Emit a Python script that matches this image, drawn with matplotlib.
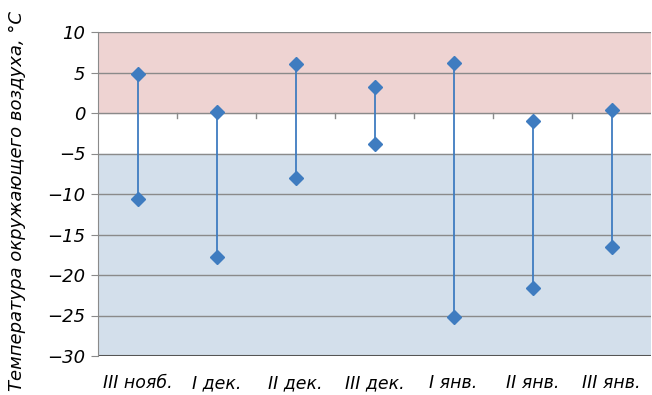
import numpy as np
import matplotlib.pyplot as plt

labels = ['III нояб.', 'I дек.', 'II дек.', 'III дек.', 'I янв.', 'II янв.', 'III янв.']
t_max = [4.8, 0.1, 6.0, 3.2, 6.2, -1.0, 0.4]
t_min = [-10.6, -17.8, -8.0, -3.8, -25.2, -21.6, -16.5]

fig = plt.figure(figsize=(6.52, 3.95), dpi=100)
ax = fig.add_axes([98/652, 39/395, 553/652, 324/395])

x = np.arange(len(labels))
ax.set_xlim(-0.5, len(labels) - 0.5)
ax.set_ylim(-30, 10)

ax.axhspan(0, 10, color='#eed3d2', zorder=0)
ax.axhspan(-30, -5, color='#d3dfeb', zorder=0)
for yv in range(-25, 11, 5):
    ax.axhline(yv, color='#8a8a8a', lw=1.0, zorder=1)
ax.axhline(-30, color='#555555', lw=1.5, zorder=1)

# tick marks between categories on the zero line
for xv in np.arange(0.5, len(labels) - 0.5, 1):
    ax.plot([xv, xv], [0, -0.6], color='#8a8a8a', lw=1.0, zorder=1)

ax.vlines(x, t_min, t_max, color='#3f7cc0', lw=1.3, zorder=2)
ax.plot(x, t_max, 'D', color='#3f7cc0', ms=7, zorder=3)
ax.plot(x, t_min, 'D', color='#3f7cc0', ms=7, zorder=3)

for s in ['top', 'right', 'bottom']:
    ax.spines[s].set_visible(False)
ax.spines['left'].set_color('#8a8a8a')

ax.set_yticks(range(-30, 11, 5))
ax.set_yticklabels([str(v).replace('-', '\u2212') for v in range(-30, 11, 5)],
                   fontsize=13, style='italic')
ax.set_xticks(x)
ax.set_xticklabels(labels, fontsize=12.5, style='italic')
ax.tick_params(axis='x', length=0, pad=13)
ax.tick_params(axis='y', length=5, color='#8a8a8a', pad=4)

fig.text(17/652, 0.49, 'Температура окружающего воздуха, °C', rotation=90,
         fontsize=13, style='italic', ha='center', va='center')

fig.savefig('out.png', dpi=100)
